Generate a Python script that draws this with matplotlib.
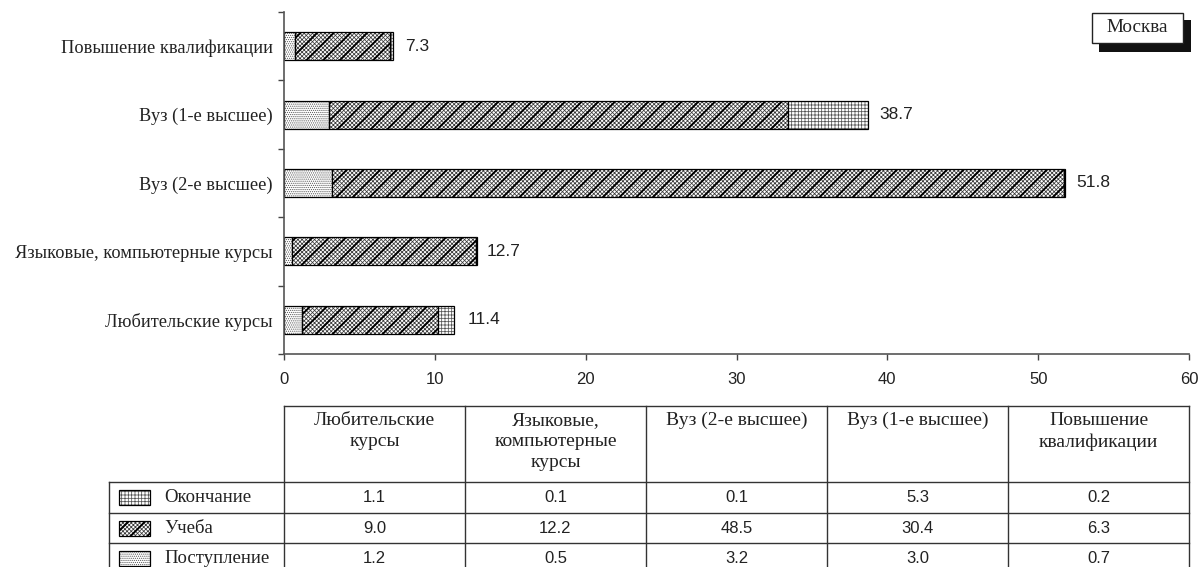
import matplotlib
matplotlib.use("Agg")
import matplotlib.pyplot as plt
from matplotlib.patches import Rectangle
import numpy as np

# chart data (bottom-to-top order of the bars, left-to-right order of the table)
categories = ["Любительские курсы", "Языковые, компьютерные курсы",
              "Вуз (2-е высшее)", "Вуз (1-е высшее)", "Повышение квалификации"]
header_labels = ["Любительские\nкурсы", "Языковые,\nкомпьютерные\nкурсы",
                 "Вуз (2-е высшее)", "Вуз (1-е высшее)", "Повышение\nквалификации"]
entry = [1.2, 0.5, 3.2, 3.0, 0.7]       # Поступление
study = [9.0, 12.2, 48.5, 30.4, 6.3]    # Учеба
finish = [1.1, 0.1, 0.1, 5.3, 0.2]      # Окончание
totals = [11.4, 12.7, 51.8, 38.7, 7.3]
x_ticks = [0, 10, 20, 30, 40, 50, 60]
region = "Москва"

SERIF = "Liberation Serif"
NARROW = ["Liberation Sans Narrow", "Liberation Sans", "DejaVu Sans"]

# hatch style per series: base hatch, its colour, optional heavy overlay hatch
STYLES = {
    "Поступление": ("." * 8, "#555555", None),
    "Учеба": ("x" * 8, "#3a3a3a", "//"),
    "Окончание": ("+" * 5, "#555555", None),
}


def hatched(ax, make, name):
    hatch, hcol, over = STYLES[name]
    make(ax, facecolor="white", edgecolor=hcol, hatch=hatch, linewidth=0,
         hlw=0.55)
    if over:
        make(ax, facecolor="none", edgecolor="black", hatch=over, linewidth=0,
             hlw=1.4)
    make(ax, facecolor="none", edgecolor="black", hatch=None, linewidth=0.9,
         hlw=0.6)


def bar_maker(y, width, left, height):
    def make(ax, hlw, **kw):
        with plt.rc_context({"hatch.linewidth": hlw}):
            bars = ax.barh(y, width, left=left, height=height, **kw)
        for b in bars:
            if hasattr(b, "set_hatch_linewidth"):
                b.set_hatch_linewidth(hlw)
    return make


def rect_maker(x, y, w, h):
    def make(ax, hlw, **kw):
        with plt.rc_context({"hatch.linewidth": hlw}):
            r = Rectangle((x, y), w, h, **kw)
        if hasattr(r, "set_hatch_linewidth"):
            r.set_hatch_linewidth(hlw)
        ax.add_patch(r)
    return make


fig = plt.figure(figsize=(12.01, 5.67), dpi=100)
W, H = 1201, 567
L, R, T, B = 284, 1189, 12, 354
ax = fig.add_axes([L / W, 1 - B / H, (R - L) / W, (B - T) / H])

ypos = np.arange(len(categories))
bh = 0.41
left_study = np.array(entry)
left_finish = left_study + np.array(study)
hatched(ax, bar_maker(ypos, entry, 0, bh), "Поступление")
hatched(ax, bar_maker(ypos, study, left_study, bh), "Учеба")
hatched(ax, bar_maker(ypos, finish, left_finish, bh), "Окончание")

for yi, tot in zip(ypos, totals):
    ax.text(tot + 0.75, yi, f"{tot:.1f}", va="center", ha="left",
            fontsize=12.5, family=NARROW, color="#222222")

ax.set_xlim(x_ticks[0], x_ticks[-1])
ax.set_ylim(-0.5, len(categories) - 0.5)
ax.set_xticks(x_ticks)
ax.set_xticklabels([str(v) for v in x_ticks], family=NARROW, fontsize=12,
                   color="#222222")
ax.set_yticks(ypos)
ax.set_yticklabels(categories, family=SERIF, fontsize=13.2, color="#222222")
ax.set_yticks(np.arange(len(categories) + 1) - 0.5, minor=True)
ax.tick_params(axis="y", which="major", length=0, pad=8)
ax.tick_params(axis="y", which="minor", length=4, width=1, color="#444444")
ax.tick_params(axis="x", length=4, width=1, color="#444444", pad=9)
for s in ("top", "right"):
    ax.spines[s].set_visible(False)
for s in ("left", "bottom"):
    ax.spines[s].set_color("#555555")
    ax.spines[s].set_linewidth(1.2)

# overlay in pixel coordinates for the table and the region label
ov = fig.add_axes([0, 0, 1, 1], facecolor="none")
ov.set_xlim(0, W)
ov.set_ylim(H, 0)
ov.axis("off")

edges = np.linspace(L, R, len(header_labels) + 1)
head_top, head_bot, row_h, lab_left = 406, 482, 30.7, 109
row_tops = head_bot + row_h * np.arange(3)
lc = dict(color="#333333", lw=1.0)
ov.plot([L, R], [head_top, head_top], **lc)
for yt in row_tops:
    ov.plot([lab_left, R], [yt, yt], **lc)
ov.plot([lab_left, lab_left], [head_bot, H], **lc)
for xe in edges:
    ov.plot([xe, xe], [head_top, H], **lc)

for i, lab in enumerate(header_labels):
    ov.text((edges[i] + edges[i + 1]) / 2, head_top + 6, lab, ha="center",
            va="top", family=SERIF, fontsize=14, linespacing=1.3,
            color="#222222")

rows = [("Окончание", finish), ("Учеба", study), ("Поступление", entry)]
for (name, vals), yt in zip(rows, row_tops):
    yc = yt + row_h / 2
    hatched(ov, rect_maker(119, yc - 7.5, 31, 15), name)
    ov.text(164, yc, name, ha="left", va="center", family=SERIF,
            fontsize=13.5, color="#222222")
    for i, v in enumerate(vals):
        ov.text((edges[i] + edges[i + 1]) / 2, yc, f"{v:.1f}", ha="center",
                va="center", family=NARROW, fontsize=12, color="#222222")

# region label with drop shadow
ov.add_patch(Rectangle((1099, 20), 92, 32, facecolor="#111111",
                       edgecolor="none"))
ov.add_patch(Rectangle((1092, 13), 91, 30, facecolor="white",
                       edgecolor="#222222", lw=1.0))
ov.text(1137.5, 28, region, ha="center", va="center", family=SERIF,
        fontsize=13.8, color="#222222")

fig.savefig("out.png", dpi=100)
